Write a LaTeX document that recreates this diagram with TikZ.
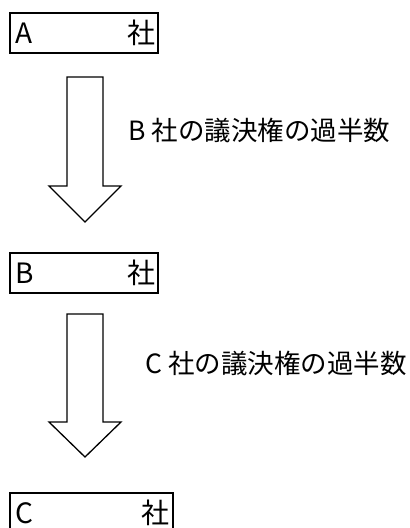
\documentclass[tikz,border=0pt]{standalone}
\usepackage{fontspec}
\setmainfont{Noto Sans CJK JP}
\begin{document}
\begin{tikzpicture}[x=1pt,y=-1pt,
  company/.style={draw,line width=2pt,inner sep=0pt},
  boxtext/.style={font=\fontsize{28}{32}\selectfont,inner sep=0pt},
  blockarrow/.style={draw,line width=1.3pt,line join=miter},
  lbl/.style={font=\fontsize{26.5}{30}\selectfont,anchor=west,inner sep=0pt}]
\useasboundingbox (0,0) rectangle (410,528);
\clip (0,0) rectangle (410,528);
% boxes
\draw[company] (9.5,12.7) rectangle (158,52.7);
\node[boxtext,anchor=west] (a1) at (15,33) {A};
\node[boxtext,anchor=east] (a2) at (156,33) {社};
\draw[company] (9.5,253) rectangle (158,293);
\node[boxtext,anchor=west] (b1) at (15,273) {B};
\node[boxtext,anchor=east] (b2) at (156,273) {社};
\draw[company] (9.5,493) rectangle (172.5,535);
\node[boxtext,anchor=west] (c1) at (15,513) {C};
\node[boxtext,anchor=east] (c2) at (170,513) {社};
% arrows
\draw[blockarrow] (67,77) -- (103,77) -- (103,186) -- (121,186) -- (85,222) -- (49,186) -- (67,186) -- cycle;
\draw[blockarrow] (67,314) -- (103,314) -- (103,422) -- (121,422) -- (85,457) -- (49,422) -- (67,422) -- cycle;
% labels
\node[lbl] (l1) at (128,130) {B 社の議決権の過半数};
\node[lbl] (l2) at (145,363) {C 社の議決権の過半数};
\end{tikzpicture}
\end{document}
